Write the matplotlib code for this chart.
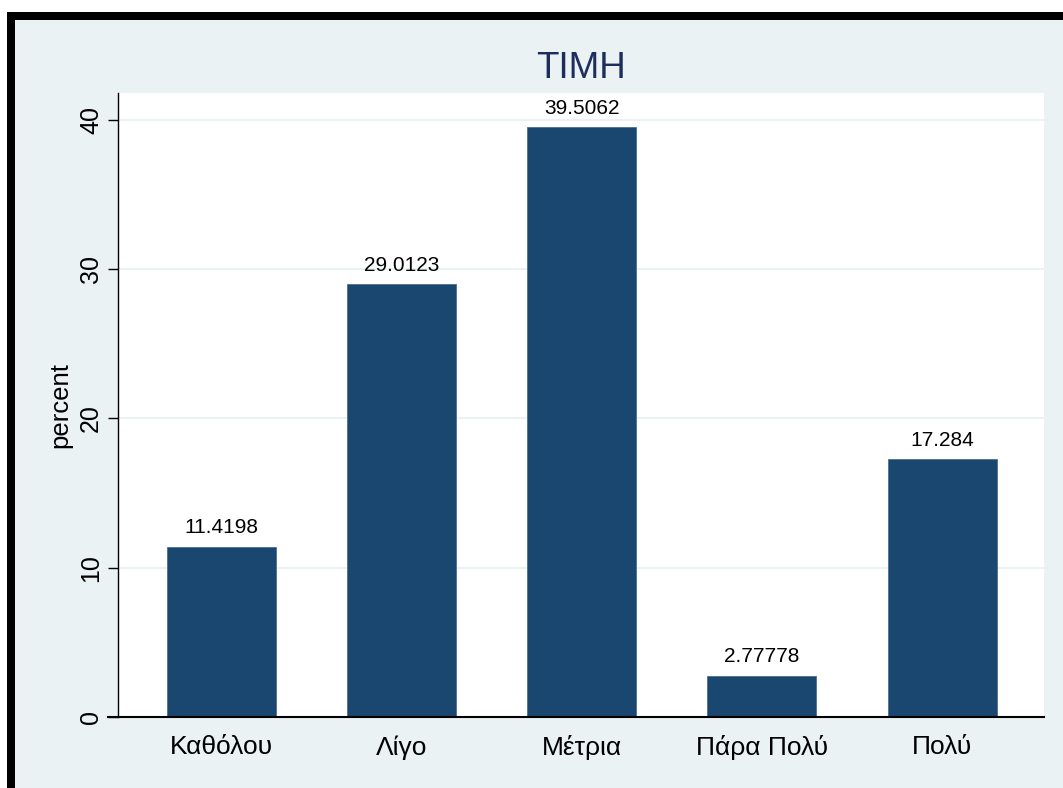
import matplotlib
matplotlib.use("Agg")
import matplotlib.pyplot as plt
from matplotlib.patches import Rectangle

plt.rcParams['font.family'] = ['Liberation Sans', 'DejaVu Sans']

# data
categories = ["Καθόλου", "Λίγο", "Μέτρια", "Πάρα Πολύ", "Πολύ"]
percents = [11.4198, 29.0123, 39.5062, 2.77778, 17.284]
bar_labels = ["11.4198", "29.0123", "39.5062", "2.77778", "17.284"]
yticks = [0, 10, 20, 30, 40]

W, H = 1063, 788
bg = "#EAF2F3"
bar_color = "#1A476F"

fig = plt.figure(figsize=(W / 100, H / 100), dpi=100, facecolor="white")

# graph region (cropped stata export with black frame at left/top)
fig.patches.append(Rectangle((15 / W, 0), 1, (H - 20) / H, transform=fig.transFigure,
                             facecolor=bg, edgecolor="none", zorder=-2))
fig.patches.append(Rectangle((7 / W, 0), 8 / W, (H - 12) / H, transform=fig.transFigure,
                             facecolor="black", edgecolor="none", zorder=-1))
fig.patches.append(Rectangle((7 / W, (H - 20) / H), 1, 8 / H, transform=fig.transFigure,
                             facecolor="black", edgecolor="none", zorder=-1))

ax = fig.add_axes([118 / W, (H - 717) / H, (1044 - 118) / W, (717 - 93) / H])
ax.set_zorder(1)
ax.set_facecolor("white")

x = list(range(len(categories)))
bars = ax.bar(x, percents, width=0.605, color=bar_color, edgecolor="#4F6F8F",
              linewidth=0.6, zorder=3)

for b, lab in zip(bars, bar_labels):
    ax.annotate(lab, (b.get_x() + b.get_width() / 2, b.get_height()),
                xytext=(0, 9.4), textcoords="offset points",
                ha="center", va="baseline", fontsize=15, color="black")

ax.set_xlim(-0.575, 4.566)
ax.set_ylim(0, 41.8)
ax.set_xticks(x)
ax.set_xticklabels(categories, fontsize=19)
ax.set_yticks(yticks)
ax.set_yticklabels([str(t) for t in yticks], fontsize=18, rotation=90, va="center")
ax.tick_params(axis="x", length=0, pad=13)
ax.tick_params(axis="y", length=7.2, width=1, pad=3.6)

for t in yticks[1:]:
    ax.axhline(t, color=bg, linewidth=1.5, zorder=1)

for s in ["top", "right"]:
    ax.spines[s].set_visible(False)
ax.spines["left"].set_linewidth(1)
ax.spines["bottom"].set_linewidth(1.5)
ax.spines["bottom"].set_bounds(-0.575 - 10 / 180.1, 4.566)
ax.spines["bottom"].set_zorder(4)

ax.set_ylabel("percent", fontsize=18.5)
ax.yaxis.set_label_coords(-0.049, 0.5)

fig.text(581 / W, (H - 78) / H, "ΤΙΜΗ", fontsize=26.5, color="#1E2E5C",
         ha="center", va="baseline")

fig.savefig("out.png", dpi=100)
